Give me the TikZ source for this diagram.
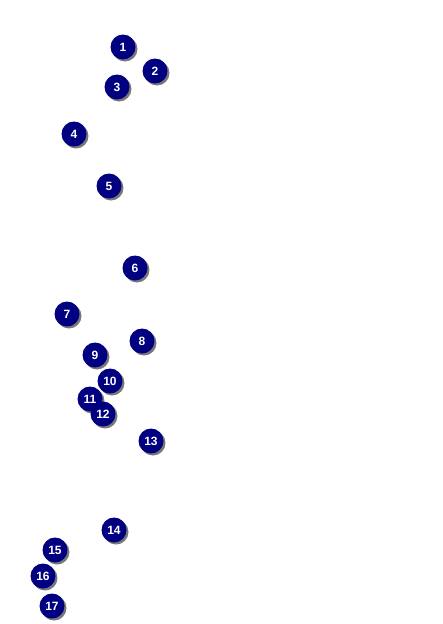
\documentclass[tikz,border=0pt]{standalone}
\usepackage{fontspec}
\setsansfont{Liberation Sans}
\usepackage{tikz}
\usetikzlibrary{shadows}
\definecolor{ballnavy}{RGB}{0,0,128}
\definecolor{ballshadow}{RGB}{120,120,120}

\begin{document}
\begin{tikzpicture}[
  x=1pt, y=-1pt,
  ball/.style={circle, fill=ballnavy, minimum size=25pt, inner sep=0pt,
               text=white, font=\sffamily\bfseries\fontsize{12}{13}\selectfont,
               drop shadow={shadow xshift=2pt, shadow yshift=-2pt,
                            fill=ballshadow, opacity=1}}
]
\useasboundingbox (0,0) rectangle (442,624);
\node[ball] (b1)  at (123,47)  {1};
\node[ball] (b2)  at (155,71)  {2};
\node[ball] (b3)  at (117,87)  {3};
\node[ball] (b4)  at (74,134)  {4};
\node[ball] (b5)  at (109,186) {5};
\node[ball] (b6)  at (135,268) {6};
\node[ball] (b7)  at (67,314)  {7};
\node[ball] (b8)  at (142,341) {8};
\node[ball] (b9)  at (95,355)  {9};
\node[ball] (b10) at (110,381) {10};
\node[ball] (b11) at (90,399)  {11};
\node[ball] (b12) at (103,414) {12};
\node[ball] (b13) at (151,441) {13};
\node[ball] (b14) at (114,530) {14};
\node[ball] (b15) at (55,550)  {15};
\node[ball] (b16) at (43,576)  {16};
\node[ball] (b17) at (52,606)  {17};
\end{tikzpicture}
\end{document}
